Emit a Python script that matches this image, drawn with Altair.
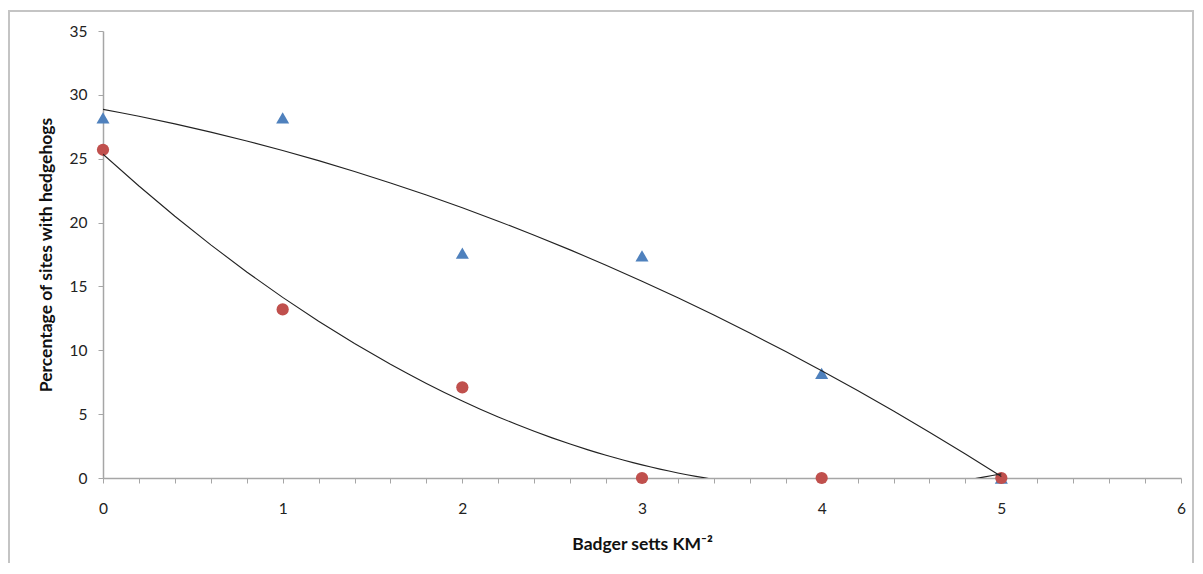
import altair as alt
import pandas as pd

# ---- data ----
x_vals = [0, 1, 2, 3, 4, 5]
triangle_y = [28.2, 28.2, 17.6, 17.4, 8.2, 0.0]
circle_y = [25.7, 13.2, 7.1, 0.0, 0.0, 0.0]
series_names = ["Triangles", "Circles"]
x_ticks = [round(i * 0.2, 1) for i in range(31)]
y_ticks = [0, 5, 10, 15, 20, 25, 30, 35]

rows = []
for x, y in zip(x_vals, triangle_y):
    rows.append({"x": x, "y": y, "series": series_names[0]})
for x, y in zip(x_vals, circle_y):
    rows.append({"x": x, "y": y, "series": series_names[1]})
df = pd.DataFrame(rows)

FONT = "Lato"
W, H = 1078, 447

xscale = alt.Scale(domain=[0, 6], nice=False, zero=False)
yscale = alt.Scale(domain=[0, 35], nice=False)

xenc = alt.X(
    "x:Q",
    scale=xscale,
    title="Badger setts KM\u207b\u00b2",
    axis=alt.Axis(
        values=x_ticks,
        labelExpr="abs(datum.value - round(datum.value)) < 0.001 ? format(datum.value, 'd') : ''",
        grid=False,
        tickSize=5,
        labelPadding=18,
        titlePadding=19,
        labelOverlap=False,
        labelFlush=False,
    ),
)
yenc = alt.Y(
    "y:Q",
    scale=yscale,
    title="Percentage of sites with hedgehogs",
    axis=alt.Axis(
        values=y_ticks, grid=False, tickSize=5, labelPadding=11, titlePadding=14,
        labelOverlap=False, labelFlush=False,
    ),
)

base = alt.Chart(df)

tri = base.transform_filter(alt.datum.series == series_names[0]).mark_point(
    shape="triangle-up", filled=True, size=170, color="#4F81BD", opacity=1
).encode(x=xenc, y=yenc)

circ = base.transform_filter(alt.datum.series == series_names[1]).mark_circle(
    size=150, color="#C0504D", opacity=1
).encode(x=xenc, y=yenc)

trend = base.transform_regression(
    "x", "y", method="poly", order=2, groupby=["series"]
).mark_line(color="#222222", strokeWidth=1.1, clip=True).encode(
    x=xenc,
    y=yenc,
    detail="series:N",
)

border = alt.Chart(pd.DataFrame({"a": [0]})).mark_rect(
    fillOpacity=0, stroke="#c4c4c4", strokeWidth=2
).encode(
    x=alt.value(-94), x2=alt.value(1090), y=alt.value(-20), y2=alt.value(600)
)

chart = alt.layer(border, tri, circ, trend).properties(
    width=W,
    height=H,
    padding={"left": 95, "top": 23, "right": 14, "bottom": 85},
    autosize=alt.AutoSizeParams(type="none"),
).configure_view(stroke=None).configure_axis(
    domainColor="#a6a6a6",
    tickColor="#a6a6a6",
    labelFont=FONT,
    titleFont=FONT,
    labelFontSize=15.5,
    titleFontSize=17.5,
    labelColor="#222222",
    titleColor="#111111",
    titleFontWeight="bold",
    domainWidth=1.5,
    labelOverlap=False,
)

chart.save("out.html", embed_options={"renderer": "svg", "actions": False})
